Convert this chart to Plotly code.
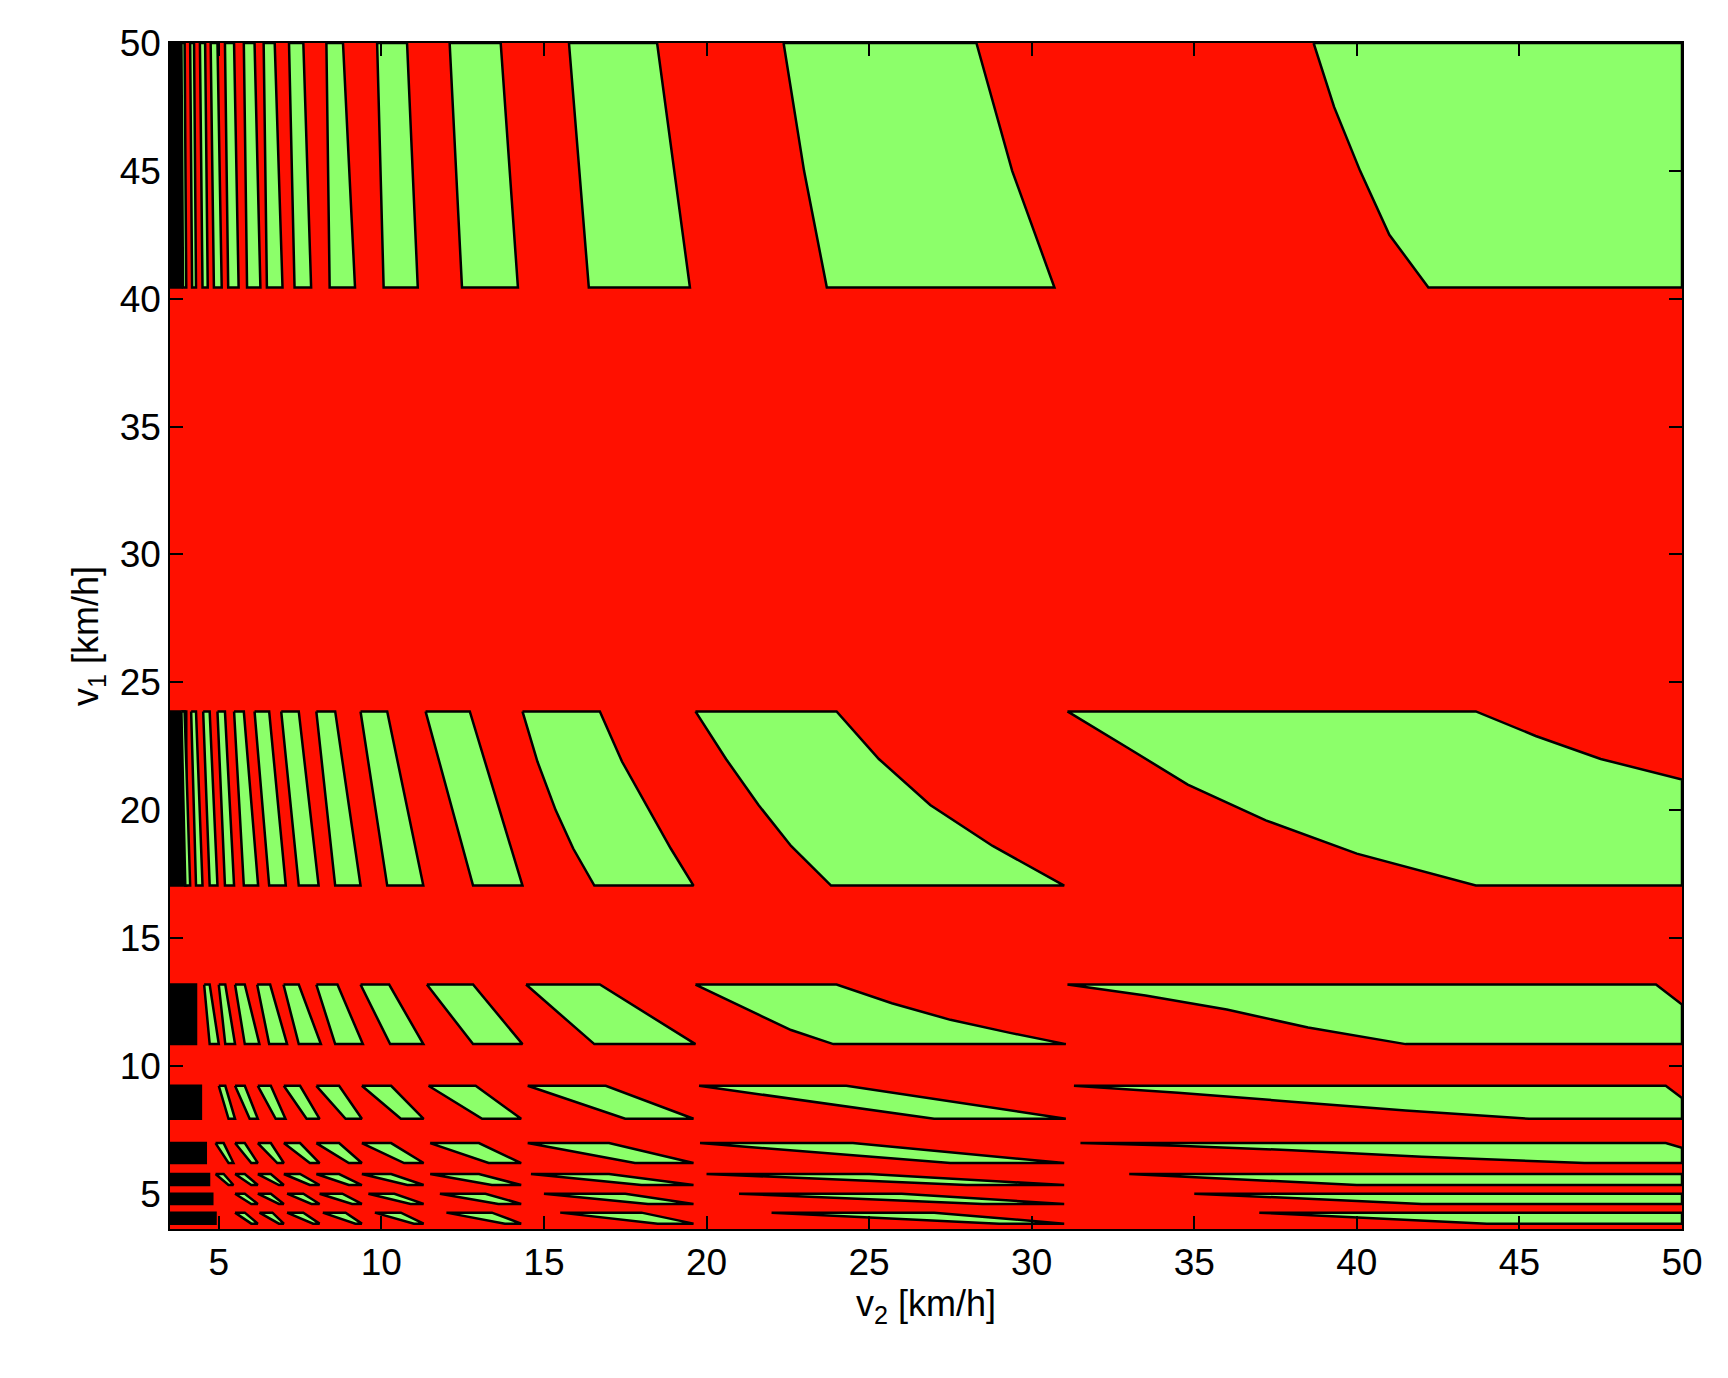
import plotly.graph_objects as go

X_TICKS = [5, 10, 15, 20, 25, 30, 35, 40, 45, 50]
Y_TICKS = [5, 10, 15, 20, 25, 30, 35, 40, 45, 50]

# green bands in v1: (bottom, top)
BAND_Y = [(40.44, 50), (17.05, 23.86), (10.85, 13.18), (7.93, 9.22),
          (6.2, 6.98), (5.34, 5.77), (4.6, 5.0), (3.83, 4.26)]

# straight stripes per band: (x_left_top, x_right_top, x_right_bottom, x_left_bottom)
BAND_STRIPES = [
    [(15.77, 18.48, 19.49, 16.38), (12.1, 13.67, 14.2, 12.48),
     (9.87, 10.79, 11.12, 10.07), (8.31, 8.82, 9.19, 8.41), (7.16, 7.6, 7.84, 7.33),
     (6.38, 6.72, 6.96, 6.48), (5.77, 6.1, 6.28, 5.87), (5.19, 5.47, 5.61, 5.29),
     (4.75, 4.96, 5.09, 4.85), (4.42, 4.58, 4.66, 4.5), (4.12, 4.24, 4.3, 4.18),
     (3.85, 3.95, 4.0, 3.9)],
    [(11.36, 12.72, 14.34, 12.82), (9.36, 10.18, 11.29, 10.18), (8.0, 8.58, 9.36, 8.58),
     (6.92, 7.46, 8.07, 7.46), (6.1, 6.55, 7.06, 6.55), (5.47, 5.77, 6.21, 5.77),
     (4.96, 5.19, 5.47, 5.19), (4.52, 4.72, 4.96, 4.72), (4.15, 4.3, 4.5, 4.3),
     (3.85, 3.95, 4.12, 3.97)],
    [(14.45, 16.72, 19.66, 16.55), (11.4, 12.82, 14.34, 12.82), (9.36, 10.24, 11.29, 10.27),
     (8.0, 8.65, 9.43, 8.58), (6.99, 7.46, 8.14, 7.46), (6.18, 6.58, 7.1, 6.55),
     (5.5, 5.8, 6.25, 5.8), (5.0, 5.2, 5.5, 5.2), (4.55, 4.72, 5.0, 4.72)],
    [(19.77, 24.3, 31.05, 27.0), (14.5, 16.9, 19.6, 17.5), (11.45, 12.9, 14.3, 13.1),
     (9.4, 10.3, 11.3, 10.6), (8.0, 8.7, 9.4, 8.9), (7.0, 7.5, 8.1, 7.7),
     (6.2, 6.6, 7.05, 6.75), (5.5, 5.8, 6.2, 5.95), (5.0, 5.2, 5.5, 5.3)],
    [(19.8, 24.5, 31.0, 27.5), (14.5, 17.0, 19.6, 17.8), (11.5, 13.0, 14.3, 13.3),
     (9.4, 10.3, 11.3, 10.7), (8.0, 8.7, 9.4, 9.0), (7.0, 7.5, 8.1, 7.8),
     (6.2, 6.6, 7.0, 6.8), (5.5, 5.8, 6.2, 6.0), (4.9, 5.15, 5.45, 5.3)],
    [(33.0, 50.0, 50.0, 40.0), (20.0, 25.0, 31.0, 28.0), (14.6, 17.0, 19.6, 18.0),
     (11.5, 13.0, 14.3, 13.4), (9.4, 10.3, 11.3, 10.8), (8.0, 8.7, 9.4, 9.0),
     (7.0, 7.5, 8.1, 7.8), (6.2, 6.6, 7.0, 6.85), (5.5, 5.8, 6.2, 6.0), (4.9, 5.15, 5.45, 5.3)],
    [(35.0, 50.0, 50.0, 42.0), (21.0, 26.0, 31.0, 28.5), (15.0, 17.5, 19.6, 18.2),
     (11.8, 13.2, 14.3, 13.6), (9.6, 10.4, 11.3, 10.9), (8.1, 8.8, 9.4, 9.1),
     (7.1, 7.6, 8.1, 7.85), (6.2, 6.6, 7.0, 6.85), (5.5, 5.8, 6.2, 6.0)],
    [(37.0, 50.0, 50.0, 44.0), (22.0, 27.0, 31.0, 29.0), (15.5, 18.0, 19.6, 18.5),
     (12.0, 13.4, 14.3, 13.8), (9.8, 10.6, 11.3, 11.0), (8.2, 8.9, 9.4, 9.2),
     (7.1, 7.6, 8.1, 7.9), (6.25, 6.65, 7.0, 6.85), (5.5, 5.8, 6.2, 6.0)],
]

# curved green regions: lists of (v2, v1) outline points
CURVED_REGIONS = [
    [(38.67, 50), (50, 50), (50, 40.44), (42.2, 40.44), (41.0, 42.5), (40.1, 45), (39.3, 47.5)],
    [(22.37, 50), (28.3, 50), (29.4, 45), (30.7, 40.44), (23.7, 40.44), (23.0, 45)],
    [(31.1, 23.86), (43.66, 23.86), (45.5, 22.9), (47.5, 22.0), (50, 21.2), (50, 17.05),
     (43.66, 17.05), (40.0, 18.3), (37.2, 19.6), (34.8, 21.0), (33.0, 22.4)],
    [(19.66, 23.86), (24.0, 23.86), (25.3, 22.0), (26.88, 20.2), (28.8, 18.6), (31.0, 17.05),
     (23.83, 17.05), (22.6, 18.6), (21.6, 20.2), (20.6, 22.0)],
    [(14.34, 23.86), (16.72, 23.86), (17.4, 21.9), (18.24, 20), (18.9, 18.5), (19.6, 17.05),
     (16.55, 17.05), (15.9, 18.5), (15.36, 20), (14.8, 21.9)],
    [(31.1, 13.18), (49.2, 13.18), (50, 12.4), (50, 10.85), (41.5, 10.85), (38.5, 11.5),
     (36, 12.2), (33.5, 12.75)],
    [(19.66, 13.18), (24.0, 13.18), (25.7, 12.45), (27.5, 11.8), (29.3, 11.3), (31.05, 10.85),
     (23.9, 10.85), (22.6, 11.4), (21.6, 12.0), (20.6, 12.6)],
    [(31.3, 9.22), (49.5, 9.22), (50, 8.74), (50, 7.93), (45.3, 7.93), (41.5, 8.25),
     (38, 8.6), (34.5, 8.95)],
    [(31.5, 6.98), (49.5, 6.98), (50, 6.8), (50, 6.2), (47, 6.2), (42, 6.45), (38, 6.7),
     (34.5, 6.88)],
]

# dense aliased region near small v2 (drawn black): (x_left, x_right) spanning each band
DENSE_X = [(3.5, 3.85), (3.5, 4.0), (3.5, 4.3), (3.5, 4.45), (3.5, 4.6), (3.5, 4.7), (3.5, 4.8), (3.5, 4.9)]

GREEN = "#8cff6a"
RED = "#ff1000"

fig = go.Figure()


def add_poly(pts, color=GREEN):
    xs = [p[0] for p in pts] + [pts[0][0]]
    ys = [p[1] for p in pts] + [pts[0][1]]
    fig.add_trace(go.Scatter(x=xs, y=ys, mode="lines", fill="toself", fillcolor=color,
                             line=dict(color="black", width=2.5), hoverinfo="skip",
                             showlegend=False))


for (yb, yt), (xa, xb) in zip(BAND_Y, DENSE_X):
    add_poly([(xa, yt), (xb, yt), (xb, yb), (xa, yb)], color="black")
for (yb, yt), stripes in zip(BAND_Y, BAND_STRIPES):
    for xlt, xrt, xrb, xlb in stripes:
        add_poly([(xlt, yt), (xrt, yt), (xrb, yb), (xlb, yb)])
for reg in CURVED_REGIONS:
    add_poly(reg)

axis_common = dict(showgrid=False, zeroline=False, ticks="inside", ticklen=13,
                   tickwidth=1.5, tickcolor="black", showline=True, linecolor="black",
                   linewidth=1.5, mirror="ticks",
                   tickfont=dict(family="Liberation Sans", size=37, color="black"))
title_font = dict(family="Liberation Sans", size=36, color="black")

fig.update_layout(
    width=1728, height=1378,
    margin=dict(l=162, r=54, t=35, b=157),
    paper_bgcolor="white", plot_bgcolor=RED,
    xaxis=dict(range=[3.5, 50], tickvals=X_TICKS,
               title=dict(text="v<sub>2</sub> [km/h]", font=title_font, standoff=8),
               **axis_common),
    yaxis=dict(range=[3.62, 50], tickvals=Y_TICKS,
               title=dict(text="v<sub>1</sub> [km/h]", font=title_font, standoff=10),
               **axis_common),
)

fig.write_html("out.html")
